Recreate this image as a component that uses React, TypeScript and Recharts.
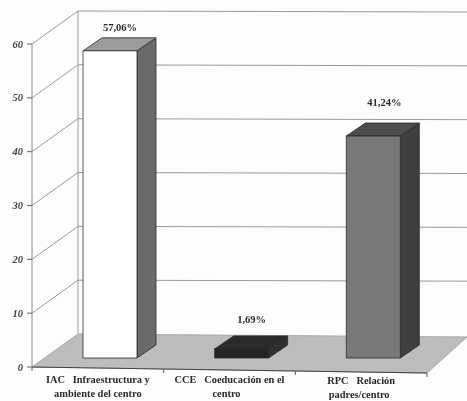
import React from 'react';
import { BarChart, Bar, XAxis, YAxis, CartesianGrid, LabelList } from 'recharts';

const categories = ['IAC Infraestructura y ambiente del centro', 'CCE Coeducación en el centro', 'RPC Relación padres/centro'];
const percentages = [57.06, 1.69, 41.24];
const valueLabels = ['57,06%', '1,69%', '41,24%'];
const yTicks = [0, 10, 20, 30, 40, 50, 60];
const categoryLines: Record<string, string[]> = {
  [categories[0]]: ['IAC   Infraestructura y', 'ambiente del centro'],
  [categories[1]]: ['CCE   Coeducación en el', 'centro'],
  [categories[2]]: ['RPC   Relación', 'padres/centro'],
};
const data = categories.map((name, i) => ({ name, value: percentages[i], label: valueLabels[i] }));

const AXIS_X = 32, BASE_Y = 367, WALL_DX = 46, WALL_DY = -33, RIGHT = 467, FLOOR_RIGHT = 427, TILT = 6 / 395;
const BAR_DX = 12, BAR_DY = -9, DEPTH_X = 19, DEPTH_Y = -13;
const faces = [
  { front: '#ffffff', side: '#6a6a6a', top: '#9b9b9b' },
  { front: '#242424', side: '#2f2f2f', top: '#2a2a2a' },
  { front: '#787878', side: '#3e3e3e', top: '#4c4c4c' },
];
const labelNudge = [{ x: 10, y: -10 }, { x: 10, y: -16 }, { x: 11, y: -20 }];
const tickNudge = [{ x: 0, y: 0 }, { x: 0, y: 0 }, { x: 0, y: 1 }];
const lineNudge = [[0, 0], [0, -3], [1, -3]];
const serif = '"Liberation Serif", serif';
const LINE = '#9a9a9a';

function Bar3D(props: any) {
  const { x, y, width, height, index } = props;
  const c = faces[index];
  const l = x + BAR_DX, t = y + BAR_DY, r = l + width, b = t + height;
  const pts = (p: number[][]) => p.map(q => q.join(',')).join(' ');
  return (
    <g stroke="#2b2b2b" strokeWidth={0.8} strokeLinejoin="round">
      <polygon points={pts([[r, t], [r + DEPTH_X, t + DEPTH_Y], [r + DEPTH_X, b + DEPTH_Y], [r, b]])} fill={c.side} />
      <polygon points={pts([[l, t], [l + DEPTH_X, t + DEPTH_Y], [r + DEPTH_X, t + DEPTH_Y], [r, t]])} fill={c.top} />
      <rect x={l} y={t} width={width} height={height} fill={c.front} />
    </g>
  );
}

function GridLine(props: any) {
  const { x1, y1, x2, index } = props;
  const by = y1 + WALL_DY;
  const step = (BASE_Y - 44) / 6;
  const isBase = Math.abs(y1 - BASE_Y) < 1;
  return (
    <g key={`g-${index}-${y1}`} fill="none" stroke={LINE} strokeWidth={1}>
      {isBase ? (
        <>
          <polygon
            points={`${x1},${y1} ${x1 + WALL_DX},${by} ${RIGHT},${by + 3} ${x2},${y1 + 6}`}
            fill="#bdbdbd"
            stroke="#a8a8a8"
          />
          <line x1={x1} y1={y1} x2={x2} y2={y1 + 6} stroke="#444" strokeWidth={1.2} />
        </>
      ) : (
        <>
          <line x1={x1 + WALL_DX} y1={by} x2={x1 + WALL_DX} y2={by + step} />
          <line x1={x1} y1={y1} x2={x1} y2={y1 + step} stroke="#888" />
          <polyline points={`${x1},${y1} ${x1 + WALL_DX},${by} ${RIGHT},${by + 1}`} />
        </>
      )}
    </g>
  );
}

function YTick(props: any) {
  const { y, payload } = props;
  return (
    <g>
      <line x1={AXIS_X - 5} y1={y} x2={AXIS_X} y2={y} stroke="#666" />
      <text x={AXIS_X - 9} y={y + 3.5} textAnchor="end" fontFamily={serif} fontStyle="italic" fontWeight="bold" fontSize={10.5} fill="#444">
        {payload.value}
      </text>
    </g>
  );
}

function XTick(props: any) {
  const { x, payload, index } = props;
  const lines = categoryLines[payload.value] || [];
  const n = tickNudge[index] || { x: 0, y: 0 };
  const bandW = (FLOOR_RIGHT - AXIS_X) / 3;
  const ex = x + bandW / 2;
  const ey = BASE_Y + (ex - AXIS_X) * TILT;
  return (
    <g>
      {index === 0 && <line x1={AXIS_X} y1={BASE_Y} x2={AXIS_X} y2={BASE_Y + 4} stroke="#555" />}
      <line x1={ex} y1={ey} x2={ex} y2={ey + 4} stroke="#555" />
      {lines.map((s, i) => (
        <text key={s} x={x + n.x + (i === 1 ? lineNudge[index][0] : 0) + (i === 1 ? lineNudge[index][1] : 0)} y={383 + n.y + i * 14} textAnchor="middle" xmlSpace="preserve" fontFamily={serif} fontWeight="bold" fontSize={10.4} fill="#2a2a2a">
          {s}
        </text>
      ))}
    </g>
  );
}

function ValueLabel(props: any) {
  const { x, y, width, index, value } = props;
  const n = labelNudge[index];
  return (
    <text x={x + BAR_DX + width / 2 + n.x} y={y + BAR_DY + DEPTH_Y + n.y + 3} textAnchor="middle" fontFamily={serif} fontWeight="bold" fontSize={10.5} fill="#2a2a2a">
      {value}
    </text>
  );
}

export default function App() {
  return (
    <div style={{ position: 'absolute', left: 0, top: 0, width: 467, height: 401, background: '#fdfdfd', filter: 'blur(0.5px)' }}>
      <BarChart width={467} height={401} data={data} margin={{ top: 44, right: 40, bottom: 0, left: 0 }} barSize={54}>
        <CartesianGrid vertical={false} horizontal={GridLine as any} />
        <XAxis dataKey="name" height={34} axisLine={false} tickLine={false} interval={0} tick={XTick as any} />
        <YAxis width={32} domain={[0, 60]} ticks={yTicks} axisLine={false} tickLine={false} tick={YTick as any} />
        <Bar dataKey="value" isAnimationActive={false} shape={Bar3D as any}>
          <LabelList dataKey="label" content={ValueLabel as any} />
        </Bar>
      </BarChart>
    </div>
  );
}
